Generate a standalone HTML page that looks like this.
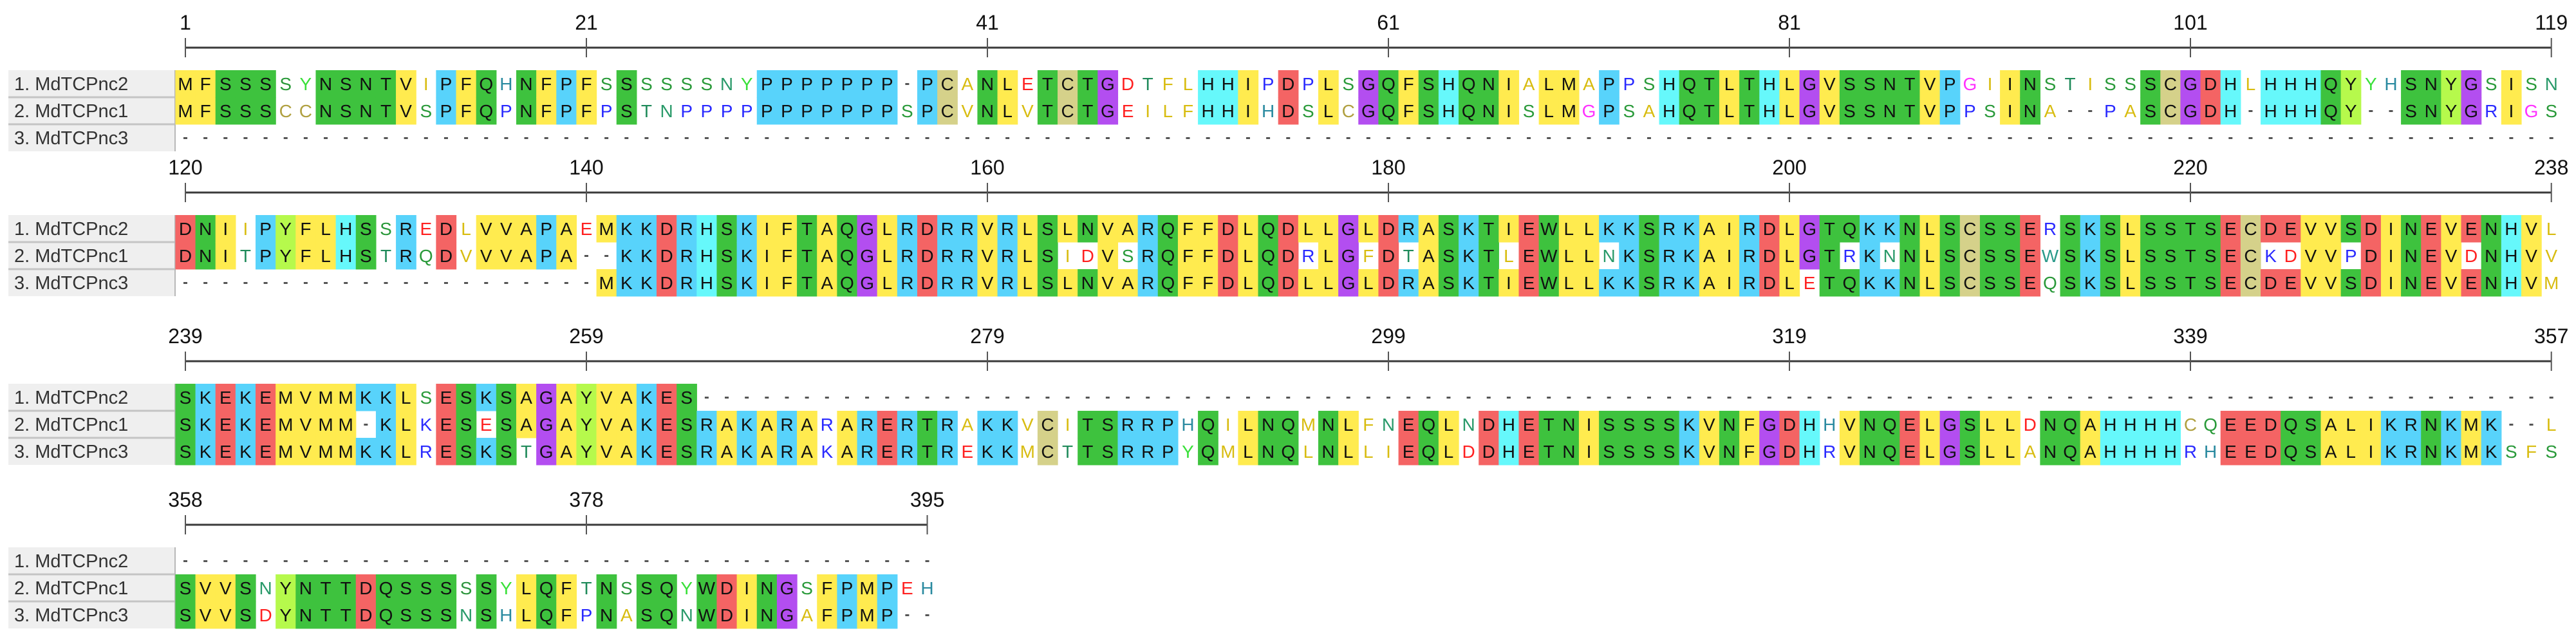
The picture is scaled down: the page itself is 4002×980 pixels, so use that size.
<!DOCTYPE html>
<html><head><meta charset="utf-8"><title>Alignment</title>
<style>
html,body{margin:0;padding:0;background:#fff;}
body{width:4002px;height:980px;overflow:hidden;}
svg{display:block;}
</style></head>
<body>
<svg id="aln" width="4002" height="980" xmlns="http://www.w3.org/2000/svg"></svg>
<script>
const seqNames = ["1. MdTCPnc2","2. MdTCPnc1","3. MdTCPnc3"];
const seqRow1 = "MFSSSSYNSNTVIPFQHNFPFSSSSSSNY"+"PPPPPPP-PCA"+"NLETCTGDTFLHHIPDPLSGQFSHQNIALMAPPSHQTLTH"+"LGVSSNTVPGIINSTISSSCGDHLHHHQYYHSNYGSISN"
 +"DNIIPYFLHSSREDLVVAPAEM"+"KKDRHSKIFTAQGLRDRR"+"VRLSLNVARQFFDLQDLLGLDRASKTIEWLLKKSRKAIRD"+"LGTQKKNLSCSSERSKSLSSTSECDEVVSDINEVENHVL"
 +"SKEKEMVMMKKLSESKSAGAYVAKES"+"-".repeat(93)+"-".repeat(38);
const seqRow2 = "MFSSSCCNSNTVSPFQPNFPFPSTNPPPP"+"PPPPPPPSPCV"+"NLVTCTGEILFHHIHDSLCGQFSHQNISLMGPSAHQTLTH"+"LGVSSNTVPPSINA--PASCGDH-HHHQY--SNYGRIGS"
 +"DNITPYFLHSTRQDVVVAPA--"+"KKDRHSKIFTAQGLRDRR"+"VRLSIDVSRQFFDLQDRLGFDTASKTLEWLLNKSRKAIRD"+"LGTRKNNLSCSSEWSKSLSSTSECKDVVPDINEVDNHVV"
 +"SKEKEMVMM-KLKESESAGAYVAKESRAKARARARERTR"+"AKKVCITSRRPHQILNQMNLFNEQLNDHETNISSSSKVNFGDHHVNQELGSLLDNQAHHHHCQEEDQSALIKRNKMK--L"
 +"SVVSNYNTTDQSSSSSYLQFTNSSQYWDINGSFPMPEH";
const seqRow3 = "-".repeat(140)+"MKKDRHSKIFTAQGLRDRR"+"VRLSLNVARQFFDLQDLLGLDRASKTIEWLLKKSRKAIRD"+"LETQKKNLSCSSEQSKSLSSTSECDEVVSDINEVENHVM"
 +"SKEKEMVMMKKLRESKSTGAYVAKESRAKARAKARERTR"+"EKKMCTTSRRPYQMLNQLNLLIEQLDDHETNISSSSKVNFGDHRVNQELGSLLANQAHHHHRHEEDQSALIKRNKMKSFS"
 +"SVVSDYNTTDQSSSNSHLQFPNASQNWDINGAFPMP--";
const blockStarts = [1,120,239,358];
const blockEnds = [119,238,357,395];
const tickLabels = [[1,21,41,61,81,101,119],[120,140,160,180,200,220,238],[239,259,279,299,319,339,357],[358,378,395]];

const rowTops=[109,334,596,850], RH=42, CW=31.15, X0=288;
const bgCol={A:"#ffeb4f",I:"#ffeb4f",L:"#ffeb4f",M:"#ffeb4f",F:"#ffeb4f",V:"#ffeb4f",
 S:"#3ec23e",T:"#3ec23e",N:"#3ec23e",Q:"#3ec23e",W:"#3ec23e",
 P:"#58d3fb",R:"#58d3fb",K:"#58d3fb",H:"#66f8fb",Y:"#b6f94c",G:"#b34ef0",D:"#f46464",E:"#f46464",C:"#d5d18a"};
const txCol={A:"#d8bc10",I:"#d8bc10",L:"#d8bc10",M:"#d8bc10",F:"#d8bc10",V:"#d8bc10",
 S:"#2a9a3a",T:"#1f8a5a",N:"#2a9a6a",Q:"#2a9a3a",W:"#2a9a8a",P:"#2a2aff",R:"#2a2aff",K:"#2a2aff",
 H:"#2a8aa0",Y:"#3ae03a",G:"#ff30ff",D:"#ff2020",E:"#ff2020",C:"#b0a040"};
const NS="http://www.w3.org/2000/svg";
const svg=document.getElementById('aln');
function mk(t,a,p){const e=document.createElementNS(NS,t);for(const k in a)e.setAttribute(k,a[k]);(p||svg).appendChild(e);return e;}
const seqs=[seqRow1,seqRow2,seqRow3];
for(let b=0;b<4;b++){
  const g=mk('g',{});
  
  
  const top=rowTops[b], rul=top-35;
  const xc=c=>X0+(c-blockStarts[b])*CW;
  const line=mk('line',{x1:xc(blockStarts[b]),x2:xc(blockEnds[b]),y1:rul,y2:rul,stroke:"#3a3a3a","stroke-width":3},g);
  
  
  tickLabels[b].forEach(v=>{
    const tk=mk('line',{x1:xc(v),x2:xc(v),y1:rul-15,y2:rul+15,stroke:"#555","stroke-width":2},g);
    
    
    const t=mk('text',{x:xc(v),y:rul-28,"text-anchor":"middle","font-family":"Liberation Sans, sans-serif","font-size":32,fill:"#111"},g);
    t.textContent=v;
    
    
  });
  const lb=mk('rect',{x:13,y:top,width:259,height:RH*3,fill:"#efefef"},g);
  
  
  for(let r=0;r<3;r++){
    const y=top+r*RH;
    if(r>0){const s=mk('rect',{x:13,y:y-1.5,width:259,height:3,fill:"#c4c4c4"},g);
      
      }
    const t=mk('text',{x:22,y:y+31,"font-family":"Liberation Sans, sans-serif","font-size":29,fill:"#333"},g);
    t.textContent=seqNames[r];
    
    
  }
  const rb=mk('rect',{x:271,y:top,width:2,height:RH*3,fill:"#b8b8b8"},g);
  
  
  for(let c=blockStarts[b];c<=blockEnds[b];c++){
    const col=seqs.map(s=>s[c-1]);
    for(let r=0;r<3;r++){
      const ch=col[r], y=top+r*RH, x=xc(c);
      if(ch==='-'){
        const d=mk('rect',{x:x-3,y:y+20,width:6,height:3,fill:"#555"},g);
        
        
        continue;
      }
      const cnt=col.filter(z=>z===ch).length;
      const hasBg=cnt>=2 && bgCol[ch];
      if(hasBg){
        const rc=mk('rect',{x:x-CW/2,y:y,width:CW+0.6,height:RH+0.5,fill:bgCol[ch]},g);
        
        
      }
      const t=mk('text',{x:x,y:y+31,"text-anchor":"middle","font-family":"Liberation Sans, sans-serif","font-size":28,fill:hasBg?"#111":(txCol[ch]||"#333")},g);
      t.textContent=ch;
      
      
    }
  }
}
</script>
</body></html>
